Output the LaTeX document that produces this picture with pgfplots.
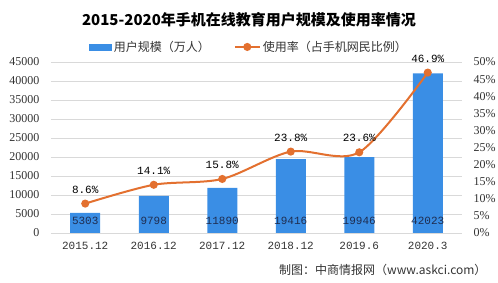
\documentclass[border=0pt]{standalone}
\usepackage{pgfplots}
\pgfplotsset{compat=1.18}
\usepackage{fontspec}
\setmainfont{Liberation Serif}
\newfontfamily\cjk{Noto Sans CJK SC}
\newfontfamily\mono{Liberation Mono}
\definecolor{barblue}{HTML}{3A8EE5}
\definecolor{lineor}{HTML}{E3702F}
\definecolor{gridg}{HTML}{D9D9D9}
\definecolor{txt}{HTML}{333333}
\definecolor{lbl}{HTML}{1F2D50}
\begin{document}
\begin{tikzpicture}[x=1pt,y=1pt]
\path[use as bounding box] (0,0) rectangle (498,283);
\node[text=black] at (249,263) {\cjk\bfseries\fontsize{15}{18}\selectfont 2015-2020年手机在线教育用户规模及使用率情况};
\node[anchor=east,text=txt] at (490,13) {\cjk\fontsize{12}{14}\selectfont 制图：中商情报网（www.askci.com）};
\begin{axis}[
  at={(51pt,50pt)}, anchor=south west, scale only axis,
  width=411pt, height=171pt,
  xmin=-0.5, xmax=5.5, ymin=0, ymax=45000,
  xtick={0,1,2,3,4,5},
  xticklabels={2015.12,2016.12,2017.12,2018.12,2019.6,2020.3},
  ytick={0,5000,10000,15000,20000,25000,30000,35000,40000,45000},
  scaled y ticks=false,
  /pgf/number format/assume math mode=true,
  yticklabel style={/pgf/number format/set thousands separator={}, font=\fontsize{12}{14}\selectfont, text=txt},
  xticklabel style={font=\mono\fontsize{11}{13}\selectfont, text=txt},
  axis line style={draw=none},
  major tick length=0pt,
  ymajorgrids, major grid style={gridg, line width=0.8pt},
  yticklabel shift=8pt, xticklabel shift=6pt,
  clip=false,
]
\addplot[ybar, bar width=30pt, fill=barblue, draw=none] coordinates {
 (0,5303) (1,9798) (2,11890) (3,19416) (4,19946) (5,42023)};
\addplot[draw=none, mark=none, nodes near coords, point meta=explicit symbolic,
  every node near coord/.append style={anchor=center, font=\mono\fontsize{11}{13}\selectfont, text=lbl}]
  coordinates {(0,3160)[5303] (1,3160)[9798] (2,3160)[11890] (3,3160)[19416] (4,3160)[19946] (5,3160)[42023]};
\end{axis}
\begin{axis}[
  at={(51pt,50pt)}, anchor=south west, scale only axis,
  width=411pt, height=171pt,
  xmin=-0.5, xmax=5.5, ymin=0, ymax=50,
  axis y line*=right, axis x line=none,
  axis line style={draw=none},
  major tick length=0pt,
  ytick={0,5,10,15,20,25,30,35,40,45,50},
  yticklabel={\pgfmathprintnumber{\tick}\%},
  /pgf/number format/assume math mode=true,
  yticklabel style={font=\fontsize{12}{14}\selectfont, text=txt},
  yticklabel shift=8pt,
  clip=false,
  legend columns=2,
  legend style={at={(0.482,1.088)}, anchor=center, draw=none, fill=none,
    font=\cjk\fontsize{12}{14}\selectfont, text=txt,
    /tikz/every even column/.append style={column sep=22pt}},
]
\addlegendimage{legend image code/.code={\fill[barblue] (0pt,-3pt) rectangle (22pt,3pt);}}
\addlegendentry{用户规模（万人）}
\addplot[lineor, line width=2pt, smooth, mark=*, mark size=3pt,
  mark options={fill=lineor, draw=lineor},
  legend image code/.code={\draw[lineor, line width=2pt] (0pt,0pt)--(25pt,0pt); \fill[lineor] (12.5pt,0pt) circle (3pt);},
  nodes near coords={\pgfmathprintnumber[fixed,precision=1,fixed zerofill]{\pgfplotspointmeta}\%},
  every node near coord/.append style={anchor=south, yshift=6pt, font=\mono\fontsize{11}{13}\selectfont, text=black}]
  coordinates {(0,8.6) (1,14.1) (2,15.8) (3,23.8) (4,23.6) (5,46.9)};
\addlegendentry{使用率（占手机网民比例）}
\end{axis}
\end{tikzpicture}
\end{document}
